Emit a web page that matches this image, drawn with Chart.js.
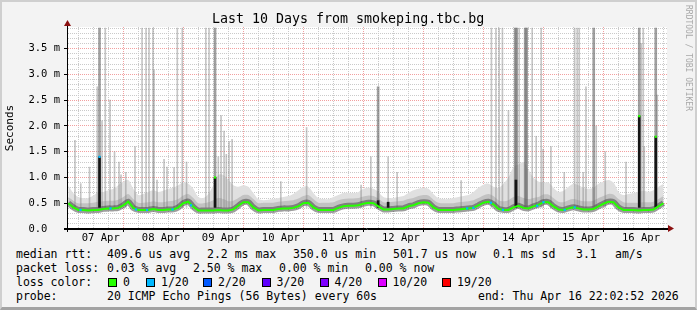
<!DOCTYPE html>
<html>
<head>
<meta charset="utf-8">
<script src="https://cdn.jsdelivr.net/npm/chart.js@4.4.1/dist/chart.umd.min.js"></script>
<style>
html, body { margin: 0; padding: 0; }
body { width: 697px; height: 310px; overflow: hidden; background: #f3f3f3; position: relative; font-family: 'DejaVu Sans Mono', monospace; }
#frame { position: absolute; left: 0; top: 0; width: 697px; height: 310px; box-sizing: border-box;
  border-top: 2px solid #cfcfcf; border-left: 2px solid #cfcfcf; border-right: 2px solid #cfcfcf; border-bottom: 3px solid #a3a3a3; pointer-events: none; }
#wrap { position: absolute; left: 0; top: 0; width: 697px; height: 245px; }
#title { position: absolute; left: 212px; top: 12px; font-size: 13.3px; line-height: 14px; white-space: pre; color: #000; }
#credit { position: absolute; left: 684px; top: 5px; writing-mode: vertical-rl; font-size: 8px; line-height: 9px; color: #a8a8a8; white-space: pre; }
.t { position: absolute; white-space: pre; font-size: 11.5px; line-height: 14px; color: #000; }
.box { position: absolute; width: 7px; height: 7px; border: 1px solid #000; }
</style>
</head>
<body>
<div id="wrap"><canvas id="c" width="697" height="245"></canvas></div>
<div id="title">Last 10 Days from smokeping.tbc.bg</div>
<div id="credit">RRDTOOL / TOBI OETIKER</div>

<div class="t" style="left:16px;top:247px">median rtt:</div>
<div class="t" style="left:107px;top:247px">409.6 us avg</div>
<div class="t" style="left:207px;top:247px">2.2 ms max</div>
<div class="t" style="left:293px;top:247px">350.0 us min</div>
<div class="t" style="left:393px;top:247px">501.7 us now</div>
<div class="t" style="left:493px;top:247px">0.1 ms sd</div>
<div class="t" style="left:576px;top:247px">3.1</div>
<div class="t" style="left:615px;top:247px">am/s</div>

<div class="t" style="left:16px;top:261px">packet loss:</div>
<div class="t" style="left:107px;top:261px">0.03 % avg</div>
<div class="t" style="left:193px;top:261px">2.50 % max</div>
<div class="t" style="left:279px;top:261px">0.00 % min</div>
<div class="t" style="left:365px;top:261px">0.00 % now</div>

<div class="t" style="left:16px;top:275px">loss color:</div>
<div id="losslegend"></div>

<div class="t" style="left:16px;top:289px">probe:</div>
<div class="t" style="left:107px;top:289px">20 ICMP Echo Pings (56 Bytes) every 60s</div>
<div class="t" style="left:478px;top:289px">end: Thu Apr 16 22:02:52 2026</div>
<div id="frame"></div>

<script>
// x values are hours since 07 Apr 00:00, median/smoke sampled every 2 hours
const FIRST_HOUR = -1;
const STEP_HOURS = 2;
const dayLabels = ['07 Apr', '08 Apr', '09 Apr', '10 Apr', '11 Apr', '12 Apr', '13 Apr', '14 Apr', '15 Apr', '16 Apr'];

// median rtt in ms
const medianRtt = [
  0.50, 0.42, 0.37, 0.37, 0.36, 0.37, 0.37, 0.39, 0.40, 0.40,
  0.41, 0.46, 0.53, 0.41, 0.37, 0.37, 0.37, 0.39, 0.37, 0.37,
  0.38, 0.38, 0.42, 0.50, 0.53, 0.43, 0.36, 0.36, 0.36, 0.36,
  0.37, 0.36, 0.36, 0.38, 0.45, 0.52, 0.52, 0.42, 0.36, 0.37,
  0.37, 0.37, 0.39, 0.40, 0.40, 0.41, 0.44, 0.50, 0.51, 0.42,
  0.37, 0.37, 0.37, 0.37, 0.41, 0.44, 0.45, 0.45, 0.46, 0.49,
  0.51, 0.50, 0.44, 0.38, 0.38, 0.39, 0.40, 0.40, 0.44, 0.46,
  0.50, 0.52, 0.51, 0.42, 0.37, 0.37, 0.37, 0.37, 0.38, 0.39,
  0.40, 0.41, 0.46, 0.51, 0.53, 0.48, 0.39, 0.37, 0.37, 0.42,
  0.45, 0.41, 0.40, 0.44, 0.47, 0.52, 0.52, 0.44, 0.38, 0.37,
  0.40, 0.42, 0.40, 0.38, 0.38, 0.39, 0.44, 0.49, 0.53, 0.52,
  0.42, 0.37, 0.37, 0.37, 0.36, 0.37, 0.37, 0.38, 0.44, 0.50
];

// upper edge of the medium smoke (ms)
const smokeMid = [
  0.62, 0.55, 0.50, 0.50, 0.50, 0.51, 0.53, 0.54, 0.55, 0.55,
  0.57, 0.62, 0.68, 0.58, 0.51, 0.51, 0.52, 0.54, 0.52, 0.52,
  0.54, 0.55, 0.58, 0.65, 0.68, 0.60, 0.50, 0.50, 0.52, 0.56,
  0.60, 0.58, 0.54, 0.55, 0.60, 0.66, 0.66, 0.58, 0.50, 0.51,
  0.51, 0.51, 0.53, 0.54, 0.55, 0.56, 0.59, 0.64, 0.66, 0.58,
  0.51, 0.51, 0.51, 0.52, 0.56, 0.58, 0.59, 0.59, 0.60, 0.63,
  0.65, 0.64, 0.59, 0.52, 0.52, 0.53, 0.54, 0.55, 0.58, 0.60,
  0.64, 0.66, 0.65, 0.57, 0.51, 0.50, 0.50, 0.50, 0.52, 0.53,
  0.54, 0.56, 0.60, 0.65, 0.68, 0.64, 0.56, 0.54, 0.56, 0.62,
  0.64, 0.60, 0.58, 0.60, 0.62, 0.67, 0.67, 0.60, 0.53, 0.52,
  0.56, 0.58, 0.56, 0.54, 0.54, 0.55, 0.60, 0.64, 0.68, 0.67,
  0.58, 0.52, 0.51, 0.51, 0.51, 0.52, 0.52, 0.53, 0.58, 0.64
];

// upper edge of the light smoke (ms)
const smokeTop = [
  0.85, 0.70, 0.62, 0.60, 0.60, 0.65, 0.72, 0.72, 0.75, 0.78,
  0.85, 0.92, 0.95, 0.78, 0.66, 0.68, 0.72, 0.75, 0.72, 0.74,
  0.78, 0.80, 0.85, 0.90, 0.88, 0.78, 0.62, 0.60, 0.68, 0.85,
  1.05, 1.05, 0.95, 0.85, 0.82, 0.85, 0.82, 0.70, 0.58, 0.56,
  0.57, 0.58, 0.60, 0.62, 0.64, 0.68, 0.75, 0.82, 0.82, 0.70,
  0.60, 0.58, 0.58, 0.62, 0.66, 0.70, 0.70, 0.70, 0.72, 0.78,
  0.80, 0.78, 0.72, 0.62, 0.60, 0.60, 0.62, 0.64, 0.70, 0.75,
  0.78, 0.80, 0.78, 0.68, 0.60, 0.58, 0.58, 0.60, 0.62, 0.64,
  0.66, 0.72, 0.80, 0.86, 0.88, 0.82, 0.80, 0.88, 1.00, 1.20,
  1.25, 1.30, 1.15, 1.00, 0.92, 0.90, 0.90, 0.80, 0.72, 0.74,
  0.82, 0.88, 0.85, 0.80, 0.78, 0.80, 0.88, 0.92, 0.95, 0.90,
  0.72, 0.66, 0.68, 0.70, 0.72, 0.74, 0.72, 0.75, 0.82, 0.88
];

// single slow pings (light streaks): hour, max rtt in ms
const SPIKE_BASE = 0.42;
const spikeHours = [1.7, 4.0, 7.5, 10.6, 12.5, 13.8, 15.7, 17.5, 19.3, 20.1, 22.0, 25.7, 28.5, 30.1, 31.3, 32.9, 33.3, 34.5,
  37.3, 38.5, 41.3, 42.6, 44.6, 46.3, 54.0, 55.3, 59.0, 60.1, 61.3, 62.2, 63.3, 64.5, 84.0, 94.3, 116.1, 120.0,
  126.9, 130.5, 156.1, 168.2, 170.0, 171.3, 172.6, 175.0, 179.3, 184.5, 186.1, 188.1, 188.9, 192.0, 197.3, 201.5,
  202.5, 203.3, 204.9, 206.0, 210.1, 213.7, 222.0, 228.1, 228.9, 229.3, 234.5];
const spikeTops = [1.72, 0.88, 1.20, 2.76, 2.10, 3.90, 2.50, 1.50, 1.30, 1.05, 1.10, 1.60, 3.90, 3.90, 3.90, 3.90, 3.08, 0.95,
  1.35, 1.20, 1.19, 3.90, 3.90, 1.30, 3.90, 3.90, 1.40, 2.20, 1.90, 1.45, 1.70, 1.74, 0.92, 1.97, 0.85, 1.40,
  1.40, 1.10, 0.94, 3.90, 3.90, 3.90, 3.90, 2.30, 3.90, 3.90, 1.80, 3.90, 1.55, 1.60, 1.10, 3.90,
  3.90, 3.90, 1.10, 2.76, 2.00, 1.50, 1.30, 3.60, 3.90, 1.60, 2.60];

// many slow pings (dark columns)
const darkHours = [11.5, 57.7, 122.9, 177.7, 178.3, 181.7, 182.3, 209.1, 227.3, 233.9];
const darkTops = [3.90, 3.90, 2.76, 3.90, 3.90, 3.90, 3.90, 3.90, 3.90, 3.90];

// median itself high (black columns)
const blackHours = [11.5, 57.7, 122.9, 126.9, 178.0, 227.3, 233.9];
const blackTops = [1.40, 1.00, 0.55, 0.52, 0.95, 2.19, 1.79];

// median samples marked with their loss colour (index into lossColors)
const markHours = [3.9, 11.5, 15.9, 26.1, 30.5, 40.7, 48.1, 57.7, 158.5, 161.0, 168.0, 172.8, 186.5, 189.0, 197.5, 201.5, 227.3, 233.9];
const markVals = [0.37, 1.40, 0.40, 0.38, 0.37, 0.38, 0.46, 1.00, 0.40, 0.41, 0.51, 0.37, 0.45, 0.52, 0.37, 0.42, 2.19, 1.79];
const markLoss = [1, 1, 1, 1, 1, 1, 1, 0, 1, 1, 1, 1, 1, 1, 1, 1, 0, 0];

const lossColors = ['#26ff00', '#00b8ff', '#0059ff', '#5e00ff', '#7e00ff', '#dd00ff', '#ff0000'];
const lossLabels = ['0', '1/20', '2/20', '3/20', '4/20', '10/20', '19/20'];

// loss colour legend
const boxX = [108, 146, 203, 261.5, 319.5, 377.5, 442];
const leg = document.getElementById('losslegend');
lossLabels.forEach((lab, i) => {
  const b = document.createElement('div');
  b.className = 'box';
  b.style.left = boxX[i] + 'px';
  b.style.top = '278px';
  b.style.background = lossColors[i];
  leg.appendChild(b);
  const t = document.createElement('div');
  t.className = 't';
  t.style.left = (boxX[i] + 15) + 'px';
  t.style.top = '275px';
  t.textContent = lab;
  leg.appendChild(t);
});

const pts = arr => arr.map((v, i) => ({ x: FIRST_HOUR + i * STEP_HOURS, y: v }));
const bars = (hours, tops, base) => hours.map((h, i) => ({ x: h, y: [base, tops[i]] }));

const MONO = 'DejaVu Sans Mono';
const tickVal = c => (c && c.tick ? c.tick.value : NaN);
const isMajorY = v => Math.abs(v * 2 - Math.round(v * 2)) < 1e-6;
const isMidnight = v => Math.abs(v % 24) < 1e-6;

const plotDeco = {
  id: 'plotDeco',
  beforeDraw(chart) {
    const a = chart.chartArea, g = chart.ctx;
    g.save();
    g.fillStyle = '#ffffff';
    g.fillRect(a.left, a.top, a.right - a.left, a.bottom - a.top);
    g.restore();
  },
  afterDraw(chart) {
    const a = chart.chartArea, g = chart.ctx;
    const x0 = Math.round(a.left) + 0.5, y0 = Math.round(a.bottom) - 0.5;
    g.save();
    g.strokeStyle = '#000';
    g.lineWidth = 1;
    g.beginPath();
    g.moveTo(x0, a.bottom + 3); g.lineTo(x0, a.top - 3);
    g.moveTo(a.left - 3, y0); g.lineTo(a.right + 2, y0);
    g.stroke();
    g.fillStyle = '#8b1010';
    g.beginPath();
    g.moveTo(x0, a.top - 7); g.lineTo(x0 - 3.5, a.top - 1); g.lineTo(x0 + 3.5, a.top - 1); g.closePath();
    g.fill();
    g.beginPath();
    g.moveTo(a.right + 7, y0); g.lineTo(a.right + 1, y0 - 3.5); g.lineTo(a.right + 1, y0 + 3.5); g.closePath();
    g.fill();
    g.restore();
  }
};

new Chart(document.getElementById('c'), {
  type: 'line',
  data: {
    datasets: [
      { label: 'median rtt', data: pts(medianRtt), borderColor: lossColors[0], borderWidth: 2,
        pointRadius: 0, tension: 0, order: 1 },
      { label: 'loss', data: markHours.map((h, i) => ({ x: h, y: markVals[i] })), showLine: false,
        pointStyle: 'rect', pointRadius: 1.6, pointBorderWidth: 0,
        pointBackgroundColor: markLoss.map(l => lossColors[l]), order: 0 },
      { type: 'bar', label: 'median spikes', data: bars(blackHours, blackTops, SPIKE_BASE),
        backgroundColor: '#151515', barThickness: 2, grouped: false, order: 2 },
      { type: 'bar', label: 'dark smoke', data: bars(darkHours, darkTops, SPIKE_BASE),
        backgroundColor: 'rgba(95,95,95,0.6)', barThickness: 2, grouped: false, order: 3 },
      { label: 'smoke core', data: pts(medianRtt), borderColor: 'rgba(60,60,60,0.5)', borderWidth: 6,
        pointRadius: 0, tension: 0.3, fill: false, order: 4 },
      { type: 'bar', label: 'smoke streaks', data: bars(spikeHours, spikeTops, SPIKE_BASE),
        backgroundColor: 'rgba(140,140,140,0.5)', barThickness: 1, grouped: false, order: 5 },
      { label: 'smoke mid', data: pts(smokeMid), borderWidth: 0, pointRadius: 0, tension: 0.3,
        fill: { target: 0 }, backgroundColor: '#c2c2c2', order: 6 },
      { label: 'smoke top', data: pts(smokeTop), borderWidth: 0, pointRadius: 0, tension: 0.3,
        fill: { target: 0 }, backgroundColor: '#e0e0e0', order: 7 }
    ]
  },
  options: {
    responsive: false,
    animation: false,
    events: [],
    layout: { padding: { top: 27, right: 30, left: 0, bottom: 0 } },
    plugins: { legend: { display: false }, tooltip: { enabled: false }, filler: { propagate: false } },
    scales: {
      x: {
        type: 'linear', min: -1.5, max: 238.4, offset: false,
        afterFit: s => { s.height = 16; },
        ticks: {
          stepSize: 6, includeBounds: false, autoSkip: false, maxRotation: 0, padding: 0,
          color: '#000', font: { family: MONO, size: 10.5 },
          callback: v => (Math.abs(v % 24 - 12) < 1e-6 ? dayLabels[Math.floor(v / 24)] : '')
        },
        grid: {
          color: c => (isMidnight(tickVal(c)) ? '#f2a0a0' : '#cacaca'),
          tickColor: c => (isMidnight(tickVal(c)) ? '#000' : 'rgba(0,0,0,0)'),
          tickLength: 3, lineWidth: 1
        },
        border: { display: true, color: '#000', dash: [1, 1] }
      },
      y: {
        min: 0, max: 3.92,
        afterFit: s => { s.width = 67; },
        title: { display: true, text: 'Seconds', color: '#000', font: { family: MONO, size: 11 }, padding: { top: 4, bottom: 0 } },
        ticks: {
          stepSize: 0.1, includeBounds: false, autoSkip: false, padding: 4,
          color: '#000', font: { family: MONO, size: 10.5 },
          callback: v => (isMajorY(v) ? (v === 0 ? '0.0  ' : v.toFixed(1) + ' m') : '')
        },
        grid: {
          color: c => (isMajorY(tickVal(c)) ? '#f2a0a0' : '#cacaca'),
          tickColor: c => (isMajorY(tickVal(c)) ? '#000' : 'rgba(0,0,0,0)'),
          tickLength: 3, lineWidth: 1
        },
        border: { display: true, color: '#000', dash: [1, 1] }
      }
    }
  },
  plugins: [plotDeco]
});
</script>
</body>
</html>
